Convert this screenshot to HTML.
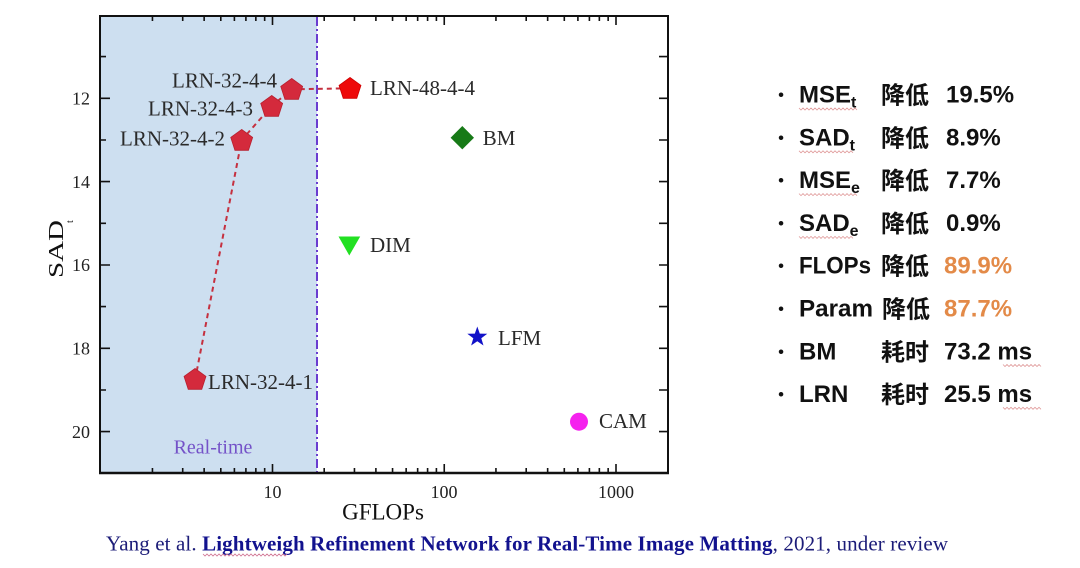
<!DOCTYPE html>
<html>
<head>
<meta charset="utf-8">
<style>
html,body{margin:0;padding:0;background:#fff;}
body{width:1080px;height:568px;overflow:hidden;}
svg{display:block;}
.serif{font-family:"Liberation Serif","Times New Roman",serif;}
.sans{font-family:"Liberation Sans","Noto Sans CJK SC",sans-serif;font-weight:bold;}
.cjk{font-family:"Noto Sans CJK SC","WenQuanYi Zen Hei",sans-serif;font-weight:bold;}
</style>
</head>
<body>
<svg width="1080" height="568" viewBox="0 0 1080 568" xmlns="http://www.w3.org/2000/svg">
  <defs>
    <polygon id="pent" points="0,-11.5 10.94,-3.55 6.76,9.3 -6.76,9.3 -10.94,-3.55"/>
  </defs>

  <rect x="100" y="16" width="217" height="457" fill="#cddff0"/>

  <line x1="317" y1="17" x2="317" y2="472" stroke="#6a3dd0" stroke-width="2" stroke-dasharray="9,3,2,3"/>

  <rect x="100" y="16" width="568" height="457" fill="none" stroke="#111" stroke-width="2"/>
  <line x1="99" y1="473" x2="669" y2="473" stroke="#111" stroke-width="2.5"/>

  <path stroke="#111" stroke-width="1.6" fill="none" d="
    M152.45 473v-5 M182.7 473v-5 M204.15 473v-5 M220.8 473v-5 M234.4 473v-5 M245.9 473v-5 M255.85 473v-5 M264.65 473v-5
    M324.2 473v-5 M354.45 473v-5 M375.9 473v-5 M392.55 473v-5 M406.15 473v-5 M417.65 473v-5 M427.6 473v-5 M436.4 473v-5
    M495.95 473v-5 M526.2 473v-5 M547.65 473v-5 M564.3 473v-5 M577.9 473v-5 M589.4 473v-5 M599.35 473v-5 M608.15 473v-5
    M272.5 473v-9 M444.25 473v-9 M616 473v-9"/>
  <path stroke="#111" stroke-width="1.6" fill="none" d="
    M152.45 16v5 M182.7 16v5 M204.15 16v5 M220.8 16v5 M234.4 16v5 M245.9 16v5 M255.85 16v5 M264.65 16v5
    M324.2 16v5 M354.45 16v5 M375.9 16v5 M392.55 16v5 M406.15 16v5 M417.65 16v5 M427.6 16v5 M436.4 16v5
    M495.95 16v5 M526.2 16v5 M547.65 16v5 M564.3 16v5 M577.9 16v5 M589.4 16v5 M599.35 16v5 M608.15 16v5
    M272.5 16v9 M444.25 16v9 M616 16v9"/>
  <path stroke="#111" stroke-width="1.6" fill="none" d="
    M100 98.3h10 M100 181.6h10 M100 265h10 M100 348.3h10 M100 431.6h10
    M100 56.6h6 M100 140h6 M100 223.3h6 M100 306.6h6 M100 390h6"/>
  <path stroke="#111" stroke-width="1.6" fill="none" d="
    M668 56.6h-9 M668 98.3h-9 M668 140h-9 M668 181.6h-9 M668 223.3h-9 M668 265h-9 M668 306.6h-9 M668 348.3h-9 M668 390h-9 M668 431.6h-9"/>

  <g class="serif" font-size="18" fill="#222" text-anchor="end">
    <text x="90" y="104.5">12</text>
    <text x="90" y="187.8">14</text>
    <text x="90" y="271.2">16</text>
    <text x="90" y="354.5">18</text>
    <text x="90" y="437.8">20</text>
  </g>
  <g class="serif" font-size="18" fill="#222" text-anchor="middle">
    <text x="272.5" y="498">10</text>
    <text x="444" y="498">100</text>
    <text x="616" y="498">1000</text>
  </g>

  <text class="serif" x="383" y="519.5" font-size="23" fill="#111" text-anchor="middle">GFLOPs</text>
  <text class="serif" transform="translate(63,278) rotate(-90)" font-size="21" fill="#111" textLength="58" lengthAdjust="spacingAndGlyphs">SAD</text>
  <text class="serif" transform="translate(73,223) rotate(-90)" font-size="10" fill="#111">t</text>

  <text class="serif" x="213" y="453.5" font-size="20" fill="#7452c8" text-anchor="middle">Real-time</text>

  <polyline points="195,380 241.7,140 271.7,106 291.7,89.3 350,88.3" fill="none" stroke="#c5303f" stroke-width="2" stroke-dasharray="5,4"/>

  <g fill="#d42a3c" stroke="#b8202f" stroke-width="0.8">
    <use href="#pent" x="195" y="380"/>
    <use href="#pent" x="241.7" y="141"/>
    <use href="#pent" x="271.7" y="107"/>
    <use href="#pent" x="291.7" y="90"/>
  </g>
  <use href="#pent" x="350" y="89" fill="#ee0a0a" stroke="#d00000" stroke-width="0.8"/>

  <polygon points="462.3,126 474,137.7 462.3,149.4 450.6,137.7" fill="#177a17"/>
  <polygon points="338.5,236.5 360.2,236.5 349.3,255.5" fill="#22e022"/>
  <polygon transform="translate(477.3,337)" fill="#1212c8" points="0,-10.5 2.47,-3.4 9.99,-3.24 3.99,1.3 6.17,8.49 0,4.2 -6.17,8.49 -3.99,1.3 -9.99,-3.24 -2.47,-3.4"/>
  <circle cx="579" cy="421.7" r="9" fill="#f522ee"/>

  <g class="serif" font-size="21" fill="#2a2a2a">
    <text x="277" y="87.5" text-anchor="end">LRN-32-4-4</text>
    <text x="253" y="115.5" text-anchor="end">LRN-32-4-3</text>
    <text x="225" y="145.5" text-anchor="end">LRN-32-4-2</text>
    <text x="208" y="388.8">LRN-32-4-1</text>
    <text x="370" y="95.2">LRN-48-4-4</text>
    <text x="482.7" y="144.8">BM</text>
    <text x="370" y="252">DIM</text>
    <text x="498" y="345">LFM</text>
    <text x="599" y="428.2">CAM</text>
  </g>

  <text class="serif" x="106" y="550.5" font-size="21" fill="#1c1c78" textLength="842" lengthAdjust="spacing">Yang et al. <tspan font-weight="bold" fill="#12128e">Lightweigh Refinement Network for Real-Time Image Matting</tspan>, 2021, under review</text>
  <path d="M203 554 l2 2 l2 -2 l2 2 l2 -2 l2 2 l2 -2 l2 2 l2 -2 l2 2 l2 -2 l2 2 l2 -2 l2 2 l2 -2 l2 2 l2 -2 l2 2 l2 -2 l2 2 l2 -2 l2 2 l2 -2 l2 2 l2 -2 l2 2 l2 -2 l2 2 l2 -2 l2 2 l2 -2 l2 2 l2 -2 l2 2 l2 -2 l2 2 l2 -2 l2 2 l2 -2 l2 2 l2 -2 l2 2 l2 -2" fill="none" stroke="#d07090" stroke-width="0.8"/>

  <g fill="#111">
    <g font-size="16" class="sans" text-anchor="middle">
      <text x="781" y="100">•</text>
      <text x="781" y="142.8">•</text>
      <text x="781" y="185.6">•</text>
      <text x="781" y="228.4">•</text>
      <text x="781" y="271.2">•</text>
      <text x="781" y="314">•</text>
      <text x="781" y="356.8">•</text>
      <text x="781" y="399.6">•</text>
    </g>
    <g class="sans" font-size="24">
      <text x="799" y="102.5">MSE<tspan font-size="16" dy="5">t</tspan></text>
      <text x="799" y="145.3">SAD<tspan font-size="16" dy="5">t</tspan></text>
      <text x="799" y="188.1">MSE<tspan font-size="16" dy="5">e</tspan></text>
      <text x="799" y="230.9">SAD<tspan font-size="16" dy="5">e</tspan></text>
      <text x="799" y="273.7" textLength="72" lengthAdjust="spacingAndGlyphs">FLOPs</text>
      <text x="799" y="316.5" textLength="74" lengthAdjust="spacingAndGlyphs">Param</text>
      <text x="799" y="359.3">BM</text>
      <text x="799" y="402.1">LRN</text>
    </g>
    <g class="cjk" font-size="24">
      <text x="881" y="103.5">降低</text>
      <text x="881" y="146.3">降低</text>
      <text x="881" y="189.1">降低</text>
      <text x="881" y="231.9">降低</text>
      <text x="881" y="274.7">降低</text>
      <text x="882" y="317.5">降低</text>
      <text x="881" y="360.3">耗时</text>
      <text x="881" y="403.1">耗时</text>
    </g>
    <g class="sans" font-size="24">
      <text x="946" y="102.5">19.5%</text>
      <text x="946" y="145.3">8.9%</text>
      <text x="946" y="188.1">7.7%</text>
      <text x="946" y="230.9">0.9%</text>
      <text x="944" y="273.7" fill="#e38a48">89.9%</text>
      <text x="944" y="316.5" fill="#e38a48">87.7%</text>
      <text x="944" y="359.3">73.2 ms</text>
      <text x="944" y="402.1">25.5 ms</text>
    </g>
    <g fill="none" stroke="#e09a9a" stroke-width="0.8">
      <path d="M799 108 l2 2 l2 -2 l2 2 l2 -2 l2 2 l2 -2 l2 2 l2 -2 l2 2 l2 -2 l2 2 l2 -2 l2 2 l2 -2 l2 2 l2 -2 l2 2 l2 -2 l2 2 l2 -2 l2 2 l2 -2 l2 2 l2 -2 l2 2 l2 -2 l2 2 l2 -2 l2 2"/>
      <path d="M799 150.8 l2 2 l2 -2 l2 2 l2 -2 l2 2 l2 -2 l2 2 l2 -2 l2 2 l2 -2 l2 2 l2 -2 l2 2 l2 -2 l2 2 l2 -2 l2 2 l2 -2 l2 2 l2 -2 l2 2 l2 -2 l2 2 l2 -2 l2 2 l2 -2 l2 2"/>
      <path d="M799 193.6 l2 2 l2 -2 l2 2 l2 -2 l2 2 l2 -2 l2 2 l2 -2 l2 2 l2 -2 l2 2 l2 -2 l2 2 l2 -2 l2 2 l2 -2 l2 2 l2 -2 l2 2 l2 -2 l2 2 l2 -2 l2 2 l2 -2 l2 2 l2 -2 l2 2 l2 -2 l2 2"/>
      <path d="M799 236.4 l2 2 l2 -2 l2 2 l2 -2 l2 2 l2 -2 l2 2 l2 -2 l2 2 l2 -2 l2 2 l2 -2 l2 2 l2 -2 l2 2 l2 -2 l2 2 l2 -2 l2 2 l2 -2 l2 2 l2 -2 l2 2 l2 -2 l2 2 l2 -2 l2 2"/>
      <path d="M1003 364.5 l2 2 l2 -2 l2 2 l2 -2 l2 2 l2 -2 l2 2 l2 -2 l2 2 l2 -2 l2 2 l2 -2 l2 2 l2 -2 l2 2 l2 -2 l2 2 l2 -2 l2 2"/>
      <path d="M1003 407.3 l2 2 l2 -2 l2 2 l2 -2 l2 2 l2 -2 l2 2 l2 -2 l2 2 l2 -2 l2 2 l2 -2 l2 2 l2 -2 l2 2 l2 -2 l2 2 l2 -2 l2 2"/>
    </g>
  </g>
</svg>
</body>
</html>
